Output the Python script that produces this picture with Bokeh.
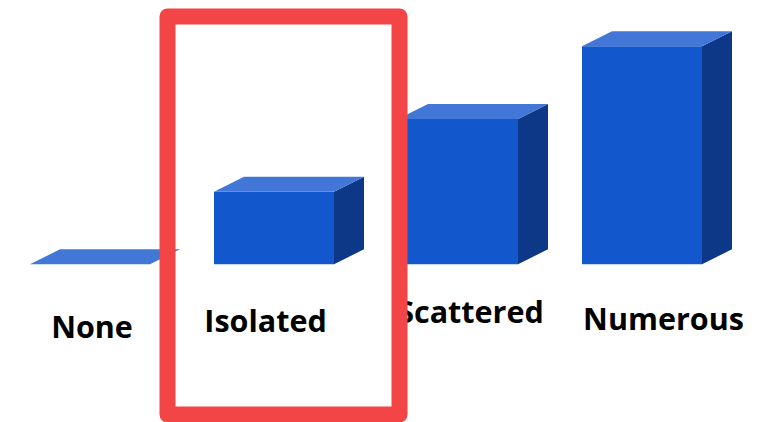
from bokeh.plotting import figure
from bokeh.models import Range1d, BoxAnnotation, ColumnDataSource
from bokeh.core.properties import value
from bokeh.embed import file_html
from bokeh.resources import INLINE

categories = ["None", "Isolated", "Scattered", "Numerous"]
levels = [0, 1, 2, 3]
positions = [0, 1, 2, 3]

# pixel scale of the drawing
PX_X, PX_Y = 184.0, 72.67
X0, Y0 = 89.5, 263.8
W, H = 769, 422
half = 60 / PX_X
dx, dy = 30 / PX_X, 15 / PX_Y

FRONT, TOP, SIDE, RED = "#1257CC", "#4277D8", "#0D3888", "#F44546"

p = figure(width=W, height=H, output_backend="svg", toolbar_location=None,
           x_range=Range1d(-X0 / PX_X, (W - X0) / PX_X),
           y_range=Range1d((Y0 - H) / PX_Y, Y0 / PX_Y),
           min_border=0, outline_line_color=None)
p.xaxis.visible = False
p.yaxis.visible = False
p.grid.visible = False

for x, v in zip(positions, levels):
    l, r = x - half, x + half
    if v > 0:
        p.patch([r, r + dx, r + dx, r], [0, dy, v + dy, v], fill_color=SIDE, line_color=None)
        p.quad(left=[l], right=[r], bottom=[0], top=[v], fill_color=FRONT, line_color=None)
    p.patch([l, l + dx, r + dx, r], [v, v + dy, v + dy, v], fill_color=TOP, line_color=None)

# labels sit at uneven spots in the reference: x shift and drop in pixels
src = ColumnDataSource(dict(x=positions, y=[0] * 4, text=categories,
                            xo=[2, -8.5, 12.5, 21.5], yo=[62, 56, 47, 54]))
p.text(x="x", y="y", text="text", x_offset="xo", y_offset="yo", source=src,
       text_font=value("Open Sans"), text_font_style="bold", text_font_size="30.5px",
       text_color="#000000", text_align="center", text_baseline="alphabetic")

p.add_layout(BoxAnnotation(left=167, right=399, top=406, bottom=8,
                           left_units="screen", right_units="screen",
                           top_units="screen", bottom_units="screen",
                           fill_alpha=0, line_color=RED, line_width=16,
                           line_alpha=1, line_join="round", level="overlay"))

open("out.html", "w").write(file_html(p, INLINE))
